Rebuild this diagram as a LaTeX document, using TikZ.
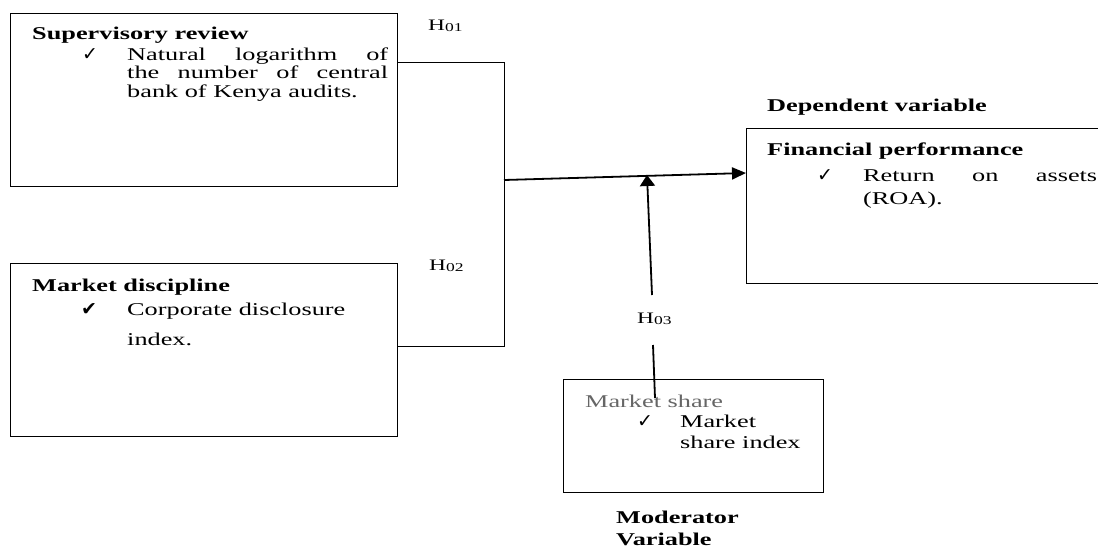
\documentclass[tikz,border=0pt]{standalone}
\usepackage{fontspec}
\setmainfont{Liberation Serif}[FakeStretch=1.46]
\newfontfamily\chk{DejaVu Sans}
\usetikzlibrary{arrows.meta}
\tikzset{
 box/.style={draw, line width=1.3pt, inner sep=0pt, anchor=north west},
 txt/.style={anchor=base west, inner sep=0pt, font=\fontsize{18}{18.5}\selectfont},
 hd/.style={anchor=base west, inner sep=0pt, font=\fontsize{18}{18.5}\selectfont\bfseries},
 ck/.style={anchor=base west, inner sep=0pt, font=\chk\fontsize{19}{19}\selectfont},
 hl/.style={anchor=base west, inner sep=0pt, font=\fontsize{16}{16}\selectfont},
 conn/.style={line width=0.9pt},
 arr/.style={line width=1.8pt, -{Triangle[length=14pt,width=12pt]}},
 arrup/.style={line width=1.8pt, -{Triangle[length=11pt,width=15pt]}},
}
\newcommand{\hsub}[1]{H\raisebox{-1.5pt}{\fontsize{12}{12}\selectfont #1}}
\begin{document}
\begin{tikzpicture}[x=1pt,y=-1pt]
\useasboundingbox (0,0) rectangle (1098,555);
\clip (0,0) rectangle (1098,555);

% boxes
\node[box, minimum width=387pt, minimum height=173pt] (sup) at (10,13) {};
\node[box, minimum width=387pt, minimum height=173pt] (md) at (10,263) {};
\node[box, minimum width=362pt, minimum height=155pt] (fp) at (746,128) {};
\node[box, minimum width=260pt, minimum height=113pt] (ms) at (563,379) {};

% supervisory review
\node[hd] (suph) at (32,39) {Supervisory review};
\node[ck] (supc) at (82,60) {✓};
\node[txt] (sup1) at (127,60) {\makebox[261pt][s]{Natural logarithm of}};
\node[txt] (sup2) at (127,78.5) {\makebox[261pt][s]{the number of central}};
\node[txt] (sup3) at (127,97) {bank of Kenya audits.};

% market discipline
\node[hd] (mdh) at (32,291) {Market discipline};
\node[ck, font=\chk\fontsize{19}{19}\selectfont] (mdc) at (81,315) {✔};
\node[txt] (md1) at (127,315) {Corporate disclosure};
\node[txt] (md2) at (127,345) {index.};

% financial performance
\node[hd] (dv) at (767,111) {Dependent variable};
\node[hd] (fph) at (767,155) {Financial performance};
\node[ck] (fpc) at (817,181) {✓};
\node[txt] (fp1) at (863,181) {\makebox[234pt][s]{Return on assets}};
\node[txt] (fp2) at (863,204) {(ROA).};

% market share
\node[txt, text=black!60] (msh) at (585,407) {Market share};
\node[ck] (msc) at (637,427) {✓};
\node[txt] (ms1) at (680,427) {Market};
\node[txt] (ms2) at (680,448) {share index};
\node[hd] (mv1) at (616,523) {Moderator};
\node[hd] (mv2) at (616,545) {Variable};

% hypothesis labels
\node[hl] (h1) at (428,30) {\hsub{01}};
\node[hl] (h2) at (429,270) {\hsub{02}};
\node[hl] (h3) at (637,323) {\hsub{03}};

% connectors
\coordinate (j1) at (504,62);
\coordinate (j2) at (504,346);
\coordinate (jm) at (504,180);
\draw[conn] (sup.east |- j1) -- (j1) -- (j2) -- (md.east |- j2);
\draw[arr] (jm) -- (fp.west |- 0,173);
\coordinate (mb) at (652,295);
\coordinate (mt) at (647,175);
\draw[arrup] (mb) -- (mt);
\coordinate (ml) at (653,345);
\coordinate (mlb) at (655,398);
\draw[line width=1.8pt] (ml) -- (mlb);
\end{tikzpicture}
\end{document}
